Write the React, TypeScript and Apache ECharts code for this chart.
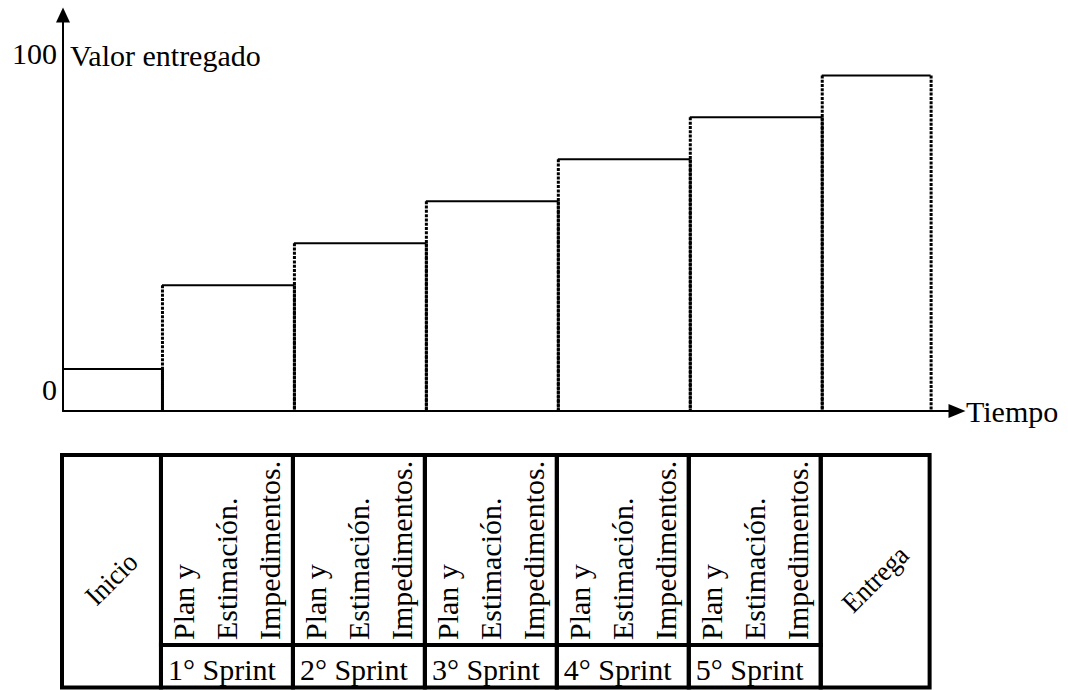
import React, { useEffect, useRef } from 'react';
import * as echarts from 'echarts';

// ---- data ----
const phaseNames = ['Inicio', '1° Sprint', '2° Sprint', '3° Sprint', '4° Sprint', '5° Sprint', 'Entrega'];
const phaseStart = [0, 3, 7, 11, 15, 19, 23];
const phaseEnd = [3, 7, 11, 15, 19, 23, 26.3];
const deliveredValue = [12.5, 37.5, 50, 62.5, 75, 87.5, 100];
const sprintActivities = ['Plan y', 'Estimación.', 'Impedimentos.'];
const yTickLabels = [0, 100];
const xAxisName = 'Tiempo';
const yAxisName = 'Valor entregado';

const FONT = 'Liberation Serif';

export default function App() {
  const ref = useRef<HTMLDivElement>(null);

  useEffect(() => {
    if (!ref.current) return;
    const chart = echarts.init(ref.current, undefined, { renderer: 'svg' });

    const data = phaseNames.map((n, i) => [phaseStart[i], phaseEnd[i], deliveredValue[i], i]);

    const renderBar = (params: any, api: any) => {
      const start = api.value(0);
      const end = api.value(1);
      const val = api.value(2);
      const p0 = api.coord([start, val]);
      const p1 = api.coord([end, val]);
      const base = api.coord([start, 0])[1];
      const dotted = { stroke: '#000', lineWidth: 3, lineDash: [3, 1.3] };
      const children: any[] = [
        {
          type: 'line',
          shape: { x1: p0[0], y1: p0[1], x2: p1[0], y2: p1[1] },
          style: { stroke: '#000', lineWidth: 2 },
        },
        {
          type: 'line',
          shape: { x1: p1[0] + 0.5, y1: p1[1], x2: p1[0] + 0.5, y2: base },
          style: dotted,
        },
      ];
      if (start > 0) {
        children.push({
          type: 'line',
          shape: { x1: p0[0] + 0.5, y1: p0[1], x2: p0[0] + 0.5, y2: base },
          style: dotted,
        });
      }
      return { type: 'group', children };
    };

    const TOP = 455;
    const MID = 645;
    const BOT = 687.5;

    const textStyle = (text: string, size: number, align: string) => ({
      text,
      fontFamily: FONT,
      fontSize: size,
      fill: '#000',
      align,
      verticalAlign: 'middle',
    });

    const renderTable = (params: any, api: any) => {
      const idx = api.value(3);
      const L = api.coord([api.value(0), 0])[0] - 1;
      const R = api.coord([api.value(1), 0])[0] - 1;
      const border = { stroke: '#000', lineWidth: 4, fill: null };
      const children: any[] = [];
      const name = phaseNames[idx];
      if (idx === 0 || idx === phaseNames.length - 1) {
        children.push({
          type: 'rect',
          shape: { x: L, y: TOP, width: R - L, height: BOT - TOP },
          style: border,
        });
        children.push({
          type: 'text',
          x: (L + R) / 2,
          y: 579,
          rotation: Math.PI / 4,
          scaleX: 0.93,
          style: textStyle(name, 28, 'center'),
        });
      } else {
        children.push({
          type: 'rect',
          shape: { x: L, y: TOP, width: R - L, height: MID - TOP },
          style: border,
        });
        children.push({
          type: 'rect',
          shape: { x: L, y: MID, width: R - L, height: BOT - MID },
          style: border,
        });
        const offs = [23, 66, 109];
        sprintActivities.forEach((t, k) => {
          children.push({
            type: 'text',
            x: L + offs[k],
            y: 640,
            rotation: Math.PI / 2,
            style: textStyle(t, 30, 'left'),
          });
        });
        children.push({
          type: 'text',
          x: L + 7,
          y: 669,
          style: textStyle(name, 30, 'left'),
        });
      }
      return { type: 'group', children };
    };

    chart.setOption({
      animation: false,
      backgroundColor: '#fff',
      textStyle: { fontFamily: FONT },
      grid: { left: 63, top: 15, width: 894, height: 396 },
      xAxis: {
        type: 'value',
        min: 0,
        max: 27.1,
        axisLine: {
          show: true,
          onZero: false,
          lineStyle: { color: '#000', width: 2 },
          symbol: ['none', 'triangle'],
          symbolSize: [14, 17],
        },
        axisTick: { show: false },
        axisLabel: { show: false },
        splitLine: { show: false },
        name: xAxisName,
        nameLocation: 'end',
        nameGap: 9,
        nameTextStyle: {
          fontFamily: FONT,
          fontSize: 30,
          color: '#000',
          align: 'left',
          verticalAlign: 'middle',
          padding: [0, 0, 14, 0],
        },
      },
      yAxis: {
        type: 'value',
        min: 0,
        max: 118,
        interval: 50,
        axisLine: {
          show: true,
          lineStyle: { color: '#000', width: 2 },
          symbol: ['none', 'triangle'],
          symbolSize: [14, 15],
        },
        axisTick: { show: false },
        splitLine: { show: false },
        axisLabel: {
          fontFamily: FONT,
          fontSize: 30,
          color: '#000',
          margin: 6,
          verticalAlign: 'bottom',
          lineHeight: 30,
          padding: [0, 0, 7, 0],
          formatter: (v: number) => (yTickLabels.includes(v) ? String(v) : ''),
        },
        name: yAxisName,
        nameLocation: 'end',
        nameGap: -40,
        nameTextStyle: {
          fontFamily: FONT,
          fontSize: 30,
          color: '#000',
          align: 'left',
          verticalAlign: 'middle',
          padding: [0, 0, 0, 7],
        },
      },
      series: [
        {
          type: 'custom',
          name: yAxisName,
          renderItem: renderBar,
          data,
          encode: { x: [0, 1], y: 2 },
          clip: false,
          silent: true,
        },
        {
          type: 'custom',
          name: 'Fases',
          renderItem: renderTable,
          data,
          encode: { x: [0, 1], y: 2 },
          clip: false,
          silent: true,
        },
      ],
    });

    return () => chart.dispose();
  }, []);

  return (
    <div
      ref={ref}
      style={{ position: 'absolute', left: 0, top: 0, width: 1068, height: 690, background: '#fff' }}
    />
  );
}
